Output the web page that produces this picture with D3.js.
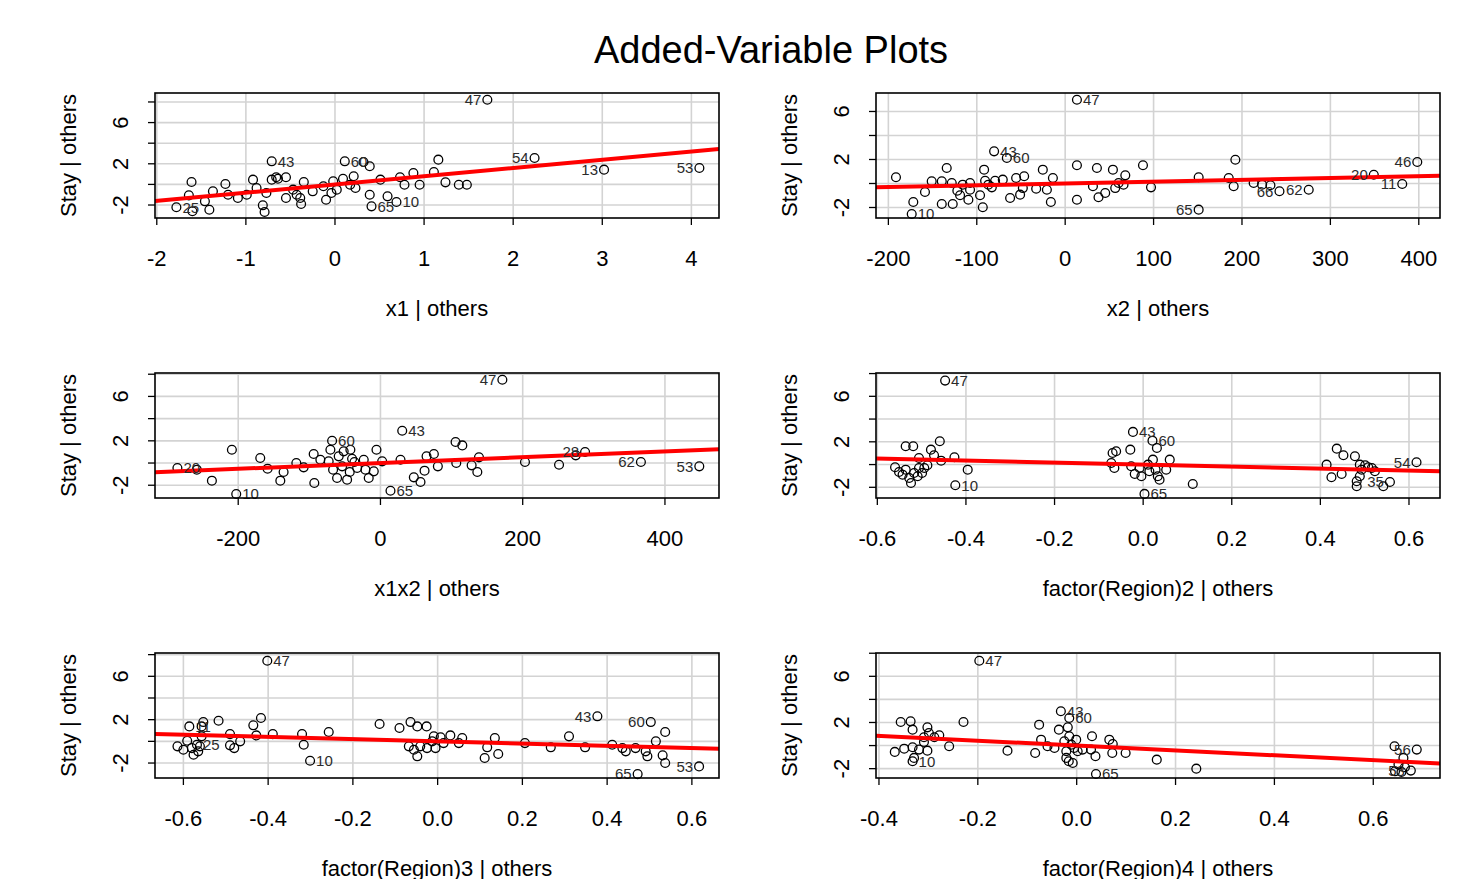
<!DOCTYPE html>
<html>
<head>
<meta charset="utf-8">
<script src="https://cdn.jsdelivr.net/npm/d3@7/dist/d3.min.js"></script>
<style>
  body { margin: 0; background: #ffffff; }
  text { font-family: "Liberation Sans", Arial, sans-serif; }
</style>
</head>
<body>
<div id="chart"></div>
<script>
// ---- data (residuals) ----
const x1Res = [-1.78,-1.60,-1.61,-1.64,-1.46,-1.41,-1.37,-1.23,-1.20,-1.09,-0.99,-0.92,-0.88,-0.81,-0.79,-0.77,-0.71,-0.71,-0.66,-0.64,-0.55,-0.55,-0.47,-0.43,-0.39,-0.38,-0.35,-0.25,-0.13,-0.10,-0.04,-0.02,0.02,0.09,0.11,0.17,0.21,0.23,0.32,0.39,0.39,0.41,0.51,0.59,0.69,0.73,0.78,0.88,0.95,1.11,1.16,1.24,1.39,1.48,1.71,2.24,3.02,4.09];
const x1Stay = [-2.22,-2.61,0.23,-1.06,-1.64,-2.46,-0.67,0.04,-1.00,-1.32,-1.00,0.46,-0.35,-2.03,-2.68,-0.83,2.24,0.46,0.69,0.55,0.69,-1.32,-0.51,-1.00,-1.32,-1.90,0.23,-0.67,-0.18,-1.49,-0.83,0.30,-0.51,0.55,2.24,-0.03,0.79,-0.35,2.17,1.76,-1.00,-2.13,0.46,-1.16,-1.71,0.69,-0.03,1.11,-0.03,1.20,2.40,0.20,-0.03,-0.03,8.22,2.56,1.43,1.59];
const x1LabelIdx = [0,16,34,41,44,54,55,56,57];
const x1LabelTxt = ["25","43","60","65","10","47","54","13","53"];

const x2Res = [-191.4,-171.8,-173.6,-158.6,-151.0,-139.6,-139.6,-134.0,-128.3,-127.2,-122.0,-118.9,-115.9,-109.5,-107.6,-107.6,-96.3,-93.2,-91.7,-90.6,-86.9,-83.0,-80.4,-79.3,-70.6,-66.0,-62.3,-55.5,-51.0,-47.9,-46.4,-32.8,-25.3,-20.7,-16.2,-13.9,13.3,13.3,13.3,31.4,35.9,37.7,45.3,54.0,56.6,60.4,66.0,68.0,88.0,97.1,151.0,151.0,185.0,190.6,192.5,213.2,222.8,232.2,242.4,275.5,349.1,381.3,398.3];
const x2Stay = [0.52,-1.54,-2.54,-0.71,0.18,0.18,-1.71,1.29,0.04,-1.71,-0.60,-0.98,-0.10,-1.35,0.04,-0.52,-0.98,-1.98,1.15,0.23,-0.10,-0.32,2.68,0.23,0.32,2.13,-1.21,0.46,-0.93,-0.38,0.60,-0.43,1.15,-0.52,-1.54,0.46,1.52,-1.35,6.98,-0.23,1.29,-1.15,-0.79,1.15,-0.38,0.04,-0.10,0.68,1.52,-0.32,0.52,-2.18,0.46,-0.23,1.98,0.04,-0.10,-0.15,-0.65,-0.52,0.73,-0.04,1.79];
const x2LabelIdx = [2,22,25,38,51,58,59,60,61,62];
const x2LabelTxt = ["10","43","60","47","65","66","62","20","11","46"];

const x1x2Res = [-285.5,-258.2,-237.0,-208.9,-202.8,-169.0,-158.7,-140.8,-136.2,-118.3,-108.0,-93.9,-93.0,-84.5,-72.8,-70.4,-68.0,-66.6,-61.0,-58.7,-53.9,-51.7,-46.9,-43.2,-42.3,-39.9,-36.6,-32.8,-23.5,-21.1,-16.5,-9.4,-5.6,2.4,14.1,28.2,30.6,46.9,56.3,62.0,64.8,75.1,80.7,105.6,115.1,106.6,128.2,136.2,138.5,171.4,203.2,251.1,274.6,287.7,366.2,448.3];
const x1x2Stay = [-0.45,-0.60,-1.59,1.20,-2.79,0.45,-0.51,-1.59,-0.81,0.00,-0.39,0.81,-1.80,0.30,0.15,1.20,2.01,-0.60,-1.35,0.60,-0.30,1.05,-1.50,-0.81,1.20,0.39,0.09,-0.45,0.30,-0.60,-1.35,-0.75,1.20,0.15,-2.50,0.30,2.91,-1.29,-1.71,-0.69,0.60,0.81,-0.30,1.89,1.59,0.00,-0.21,-0.81,0.51,7.50,0.09,-0.15,0.69,0.99,0.09,-0.30];
const x1x2LabelIdx = [0,4,16,34,36,49,53,54,55];
const x1x2LabelTxt = ["20","10","60","65","43","47","28","62","53"];

const reg2Res = [-0.447,-0.536,-0.519,-0.459,-0.479,-0.472,-0.456,-0.426,-0.506,-0.560,-0.551,-0.543,-0.536,-0.528,-0.524,-0.517,-0.509,-0.499,-0.494,-0.487,-0.506,-0.396,-0.424,-0.069,-0.061,-0.072,-0.065,-0.029,-0.023,-0.027,-0.019,-0.008,-0.004,0.003,0.011,0.014,0.021,0.022,0.028,0.031,0.033,0.060,0.052,0.037,0.112,0.437,0.452,0.478,0.414,0.425,0.448,0.489,0.493,0.501,0.508,0.482,0.482,0.489,0.516,0.523,0.542,0.557,0.617];
const reg2Stay = [7.38,1.61,1.61,2.05,1.31,0.82,0.34,0.64,0.58,-0.24,-0.65,-0.89,-0.45,-1.18,-1.62,-0.74,-1.03,-0.74,-0.30,-0.06,-0.30,-0.45,-1.82,1.02,1.17,0.14,-0.30,1.31,2.87,-0.15,-0.83,-0.30,-1.03,-2.58,-0.01,-0.59,2.10,0.43,-0.45,1.46,-1.03,0.43,-0.45,-1.33,-1.71,1.40,0.82,0.73,-0.01,-1.12,-0.83,-0.01,-0.45,-0.06,-0.24,-1.47,-1.91,-1.03,-0.30,-0.59,-1.91,-1.53,0.20];
const reg2LabelIdx = [0,22,28,33,36,61,62];
const reg2LabelTxt = ["47","10","43","65","60","35","54"];

const reg3Res = [-0.402,-0.614,-0.600,-0.591,-0.586,-0.580,-0.576,-0.568,-0.565,-0.561,-0.557,-0.553,-0.557,-0.517,-0.490,-0.490,-0.480,-0.466,-0.435,-0.417,-0.428,-0.389,-0.320,-0.316,-0.301,-0.257,-0.137,-0.090,-0.064,-0.048,-0.026,-0.068,-0.056,-0.048,-0.041,-0.025,-0.013,-0.009,-0.005,0.007,0.030,0.014,0.050,0.058,0.111,0.117,0.135,0.143,0.206,0.267,0.310,0.348,0.377,0.412,0.436,0.444,0.467,0.491,0.495,0.503,0.515,0.537,0.531,0.537,0.472,0.617];
const reg3Stay = [7.44,-0.46,-0.77,0.06,1.38,-0.62,-1.24,-0.31,-0.92,-0.46,1.38,1.78,0.46,1.90,0.67,-0.37,-0.62,0.00,1.48,2.15,0.55,0.67,0.67,-0.31,-1.79,0.86,1.60,1.23,1.78,1.38,1.38,-0.46,-0.77,-1.38,-0.46,-0.62,0.00,0.46,-0.62,0.37,0.55,-0.16,-0.16,0.30,-1.54,-0.55,0.30,-1.17,-0.16,-0.55,0.46,-0.55,2.31,-0.31,-0.62,-0.92,-0.62,-0.92,-1.38,1.78,0.00,0.86,-1.29,-2.00,-3.02,-2.31];
const reg3LabelIdx = [0,4,7,24,52,59,64,65];
const reg3LabelTxt = ["47","11","25","10","43","60","65","53"];

const reg4Res = [-0.197,-0.356,-0.336,-0.332,-0.302,-0.299,-0.288,-0.278,-0.309,-0.258,-0.229,-0.368,-0.349,-0.332,-0.319,-0.309,-0.302,-0.329,-0.332,-0.140,-0.076,-0.084,-0.072,-0.059,-0.045,-0.036,-0.032,-0.025,-0.021,-0.018,-0.015,-0.015,-0.011,-0.021,-0.016,-0.008,-0.005,-0.001,0.002,0.012,0.029,0.031,0.038,0.039,0.066,0.073,0.072,0.099,0.162,0.242,0.643,0.688,0.661,0.651,0.644,0.664,0.676,0.657];
const reg4Stay = [7.35,2.04,2.10,1.38,1.58,1.09,0.72,0.89,0.72,-0.06,2.04,-0.55,-0.27,-0.15,-0.35,0.31,-0.44,-1.07,-1.36,-0.44,1.81,-0.64,0.51,-0.06,-0.21,1.38,2.97,0.37,-0.49,1.58,2.39,0.81,0.08,-1.07,-1.36,-1.51,-0.21,0.51,-0.49,-0.35,-0.35,0.81,-0.93,-2.46,0.51,0.14,-0.64,-0.64,-1.22,-2.00,-0.06,-0.35,-1.07,-1.65,-2.23,-1.88,-2.17,-2.29];
const reg4LabelIdx = [0,18,26,30,43,51,56];
const reg4LabelTxt = ["47","10","43","60","65","56","53"];

// axis titles, tick values, fitted slopes, plot limits
const xTitles = ["x1 | others", "x2 | others", "x1x2 | others",
                 "factor(Region)2 | others", "factor(Region)3 | others", "factor(Region)4 | others"];
const yTitle = "Stay | others";
const xTickSets = [
    [-2, -1, 0, 1, 2, 3, 4],
    [-200, -100, 0, 100, 200, 300, 400],
    [-200, 0, 200, 400],
    [-0.6, -0.4, -0.2, 0, 0.2, 0.4, 0.6],
    [-0.6, -0.4, -0.2, 0, 0.2, 0.4, 0.6],
    [-0.4, -0.2, 0, 0.2, 0.4, 0.6]
];
const yTicks = [-2, 0, 2, 4, 6, 8];
const yTickLabels = [-2, 2, 6];
const fitSlopes = [0.80, 0.0015, 0.0026, -0.87, -1.02, -2.10];
const xLims = [[-2.02, 4.31], [-214, 424], [-317, 476], [-0.603, 0.670], [-0.667, 0.664], [-0.406, 0.735]];
const yLims = [[-3.26, 8.87], [-2.875, 7.54], [-3.15, 8.11], [-2.94, 8.05], [-3.38, 8.15], [-2.81, 8.02]];

const panels = [
    { xs: x1Res, ys: x1Stay, li: x1LabelIdx, lt: x1LabelTxt, fmt: d => String(d) },
    { xs: x2Res, ys: x2Stay, li: x2LabelIdx, lt: x2LabelTxt, fmt: d => String(d) },
    { xs: x1x2Res, ys: x1x2Stay, li: x1x2LabelIdx, lt: x1x2LabelTxt, fmt: d => String(d) },
    { xs: reg2Res, ys: reg2Stay, li: reg2LabelIdx, lt: reg2LabelTxt, fmt: d => d.toFixed(1) },
    { xs: reg3Res, ys: reg3Stay, li: reg3LabelIdx, lt: reg3LabelTxt, fmt: d => d.toFixed(1) },
    { xs: reg4Res, ys: reg4Stay, li: reg4LabelIdx, lt: reg4LabelTxt, fmt: d => d.toFixed(1) }
];

// ---- layout ----
const width = 1468;
const height = 879;
const colLeft = [155, 876];
const rowTop = [93, 373, 653];
const boxW = 564;
const boxH = 125;
const tickLen = 7;

const svg = d3.select("#chart")
    .append("svg")
    .attr("width", width)
    .attr("height", height);

svg.append("text")
    .attr("x", 771)
    .attr("y", 50)
    .attr("dy", "0.35em")
    .attr("text-anchor", "middle")
    .attr("font-size", 38)
    .attr("fill", "#000")
    .text("Added-Variable Plots");

panels.forEach((p, i) => {
    const left = colLeft[i % 2];
    const top = rowTop[Math.floor(i / 2)];

    const x = d3.scaleLinear().domain(xLims[i]).range([0, boxW]);
    const y = d3.scaleLinear().domain(yLims[i]).range([boxH, 0]);

    const g = svg.append("g").attr("transform", `translate(${left},${top})`);

    g.append("clipPath")
        .attr("id", "clip" + i)
        .append("rect")
        .attr("width", boxW)
        .attr("height", boxH);

    const yt = yTicks.filter(v => v >= yLims[i][0] && v <= yLims[i][1]);
    const xt = xTickSets[i];

    // grid
    const grid = g.append("g").attr("stroke", "#d3d3d3").attr("stroke-width", 1.6);
    grid.selectAll(".gx").data(xt).join("line")
        .attr("x1", d => x(d)).attr("x2", d => x(d))
        .attr("y1", 0).attr("y2", boxH);
    grid.selectAll(".gy").data(yt).join("line")
        .attr("x1", 0).attr("x2", boxW)
        .attr("y1", d => y(d)).attr("y2", d => y(d));

    // points
    g.append("g")
        .selectAll("circle")
        .data(p.xs.map((v, k) => [v, p.ys[k]]))
        .join("circle")
        .attr("cx", d => x(d[0]))
        .attr("cy", d => y(d[1]))
        .attr("r", 4.4)
        .attr("fill", "none")
        .attr("stroke", "#000")
        .attr("stroke-width", 1.3);

    // least squares line
    const xMid = (xLims[i][0] + xLims[i][1]) / 2;
    g.append("line")
        .attr("clip-path", `url(#clip${i})`)
        .attr("x1", x(xLims[i][0])).attr("y1", y(fitSlopes[i] * xLims[i][0]))
        .attr("x2", x(xLims[i][1])).attr("y2", y(fitSlopes[i] * xLims[i][1]))
        .attr("stroke", "#ff0000")
        .attr("stroke-width", 4);

    // point ids
    g.append("g")
        .attr("font-size", 15)
        .attr("fill", "#2b2b2b")
        .selectAll("text")
        .data(p.li.map((k, j) => ({ k, t: p.lt[j] })))
        .join("text")
        .attr("x", d => p.xs[d.k] > xMid ? x(p.xs[d.k]) - 6 : x(p.xs[d.k]) + 6)
        .attr("y", d => y(p.ys[d.k]))
        .attr("dy", "0.35em")
        .attr("text-anchor", d => p.xs[d.k] > xMid ? "end" : "start")
        .text(d => d.t);

    // box
    g.append("rect")
        .attr("width", boxW)
        .attr("height", boxH)
        .attr("fill", "none")
        .attr("stroke", "#000")
        .attr("stroke-width", 1.6);

    // x axis ticks + labels
    const ax = g.append("g").attr("transform", `translate(0,${boxH})`);
    ax.selectAll("line").data(xt).join("line")
        .attr("x1", d => x(d)).attr("x2", d => x(d))
        .attr("y1", 0).attr("y2", tickLen)
        .attr("stroke", "#000").attr("stroke-width", 1.3);
    ax.selectAll("text").data(xt).join("text")
        .attr("x", d => x(d))
        .attr("y", 40)
        .attr("dy", "0.35em")
        .attr("text-anchor", "middle")
        .attr("font-size", 22)
        .text(p.fmt);
    ax.append("text")
        .attr("x", boxW / 2)
        .attr("y", 90)
        .attr("dy", "0.35em")
        .attr("text-anchor", "middle")
        .attr("font-size", 22)
        .text(xTitles[i]);

    // y axis ticks + labels
    const ay = g.append("g");
    ay.selectAll("line").data(yt).join("line")
        .attr("x1", -tickLen).attr("x2", 0)
        .attr("y1", d => y(d)).attr("y2", d => y(d))
        .attr("stroke", "#000").attr("stroke-width", 1.3);
    ay.selectAll("text").data(yTickLabels).join("text")
        .attr("transform", d => `translate(-35,${y(d)}) rotate(-90)`)
        .attr("dy", "0.35em")
        .attr("text-anchor", "middle")
        .attr("font-size", 22)
        .text(d => String(d));
    ay.append("text")
        .attr("transform", `translate(-87,${boxH / 2}) rotate(-90)`)
        .attr("dy", "0.35em")
        .attr("text-anchor", "middle")
        .attr("font-size", 22)
        .text(yTitle);
});
</script>
</body>
</html>
